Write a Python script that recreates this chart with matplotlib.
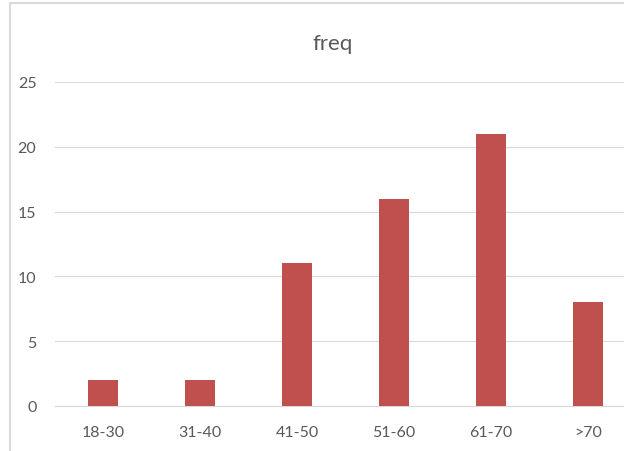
import matplotlib.pyplot as plt
from matplotlib.patches import Rectangle

age_groups = ["18-30", "31-40", "41-50", "51-60", "61-70", ">70"]
freq = [2, 2, 11, 16, 21, 8]
y_ticks = [0, 5, 10, 15, 20, 25]

plt.rcParams["font.family"] = ["Lato", "DejaVu Sans"]

fig = plt.figure(figsize=(6.24, 4.52), dpi=100)

# chart frame (light grey border, cut off at right / bottom)
fig.patches.append(Rectangle((10 / 624, -0.1), 1.2, (452 - 4) / 452 + 0.1,
                             transform=fig.transFigure, fill=False,
                             edgecolor="#d9d9d9", linewidth=1.5))

ax = fig.add_axes([54.5 / 624, 45 / 452, 582 / 624, 324 / 452])
ax.bar(range(len(age_groups)), freq, width=0.31, color="#c0504d", zorder=3)
ax.set_xlim(-0.5, 5.5)
ax.set_ylim(0, 25)
ax.set_xticks(range(len(age_groups)))
ax.set_xticklabels(age_groups)
ax.set_yticks(y_ticks)
ax.grid(axis="y", color="#d9d9d9", linewidth=0.8, zorder=0)
for s in ["top", "right", "left"]:
    ax.spines[s].set_visible(False)
ax.spines["bottom"].set_color("#d9d9d9")
ax.tick_params(length=0, colors="#595959", labelsize=11.5)
ax.tick_params(axis="x", pad=14)
ax.tick_params(axis="y", pad=13)

fig.text(333 / 624, 1 - 44 / 452, "freq", ha="center", va="center",
         fontsize=16, color="#595959")

fig.savefig("out.png", dpi=100)
